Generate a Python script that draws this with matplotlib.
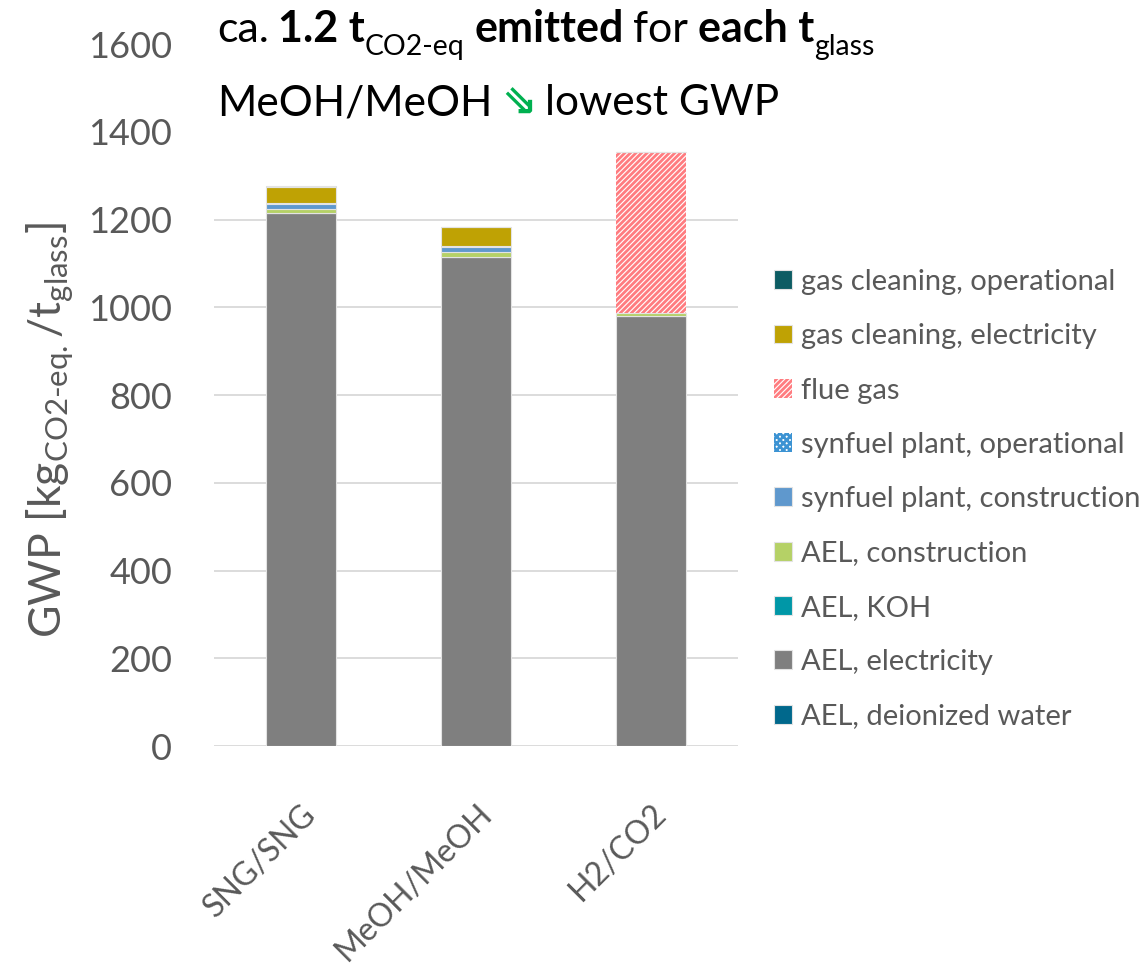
import matplotlib
matplotlib.use("Agg")
import matplotlib.pyplot as plt
from matplotlib.patches import Rectangle

plt.rcParams['font.family'] = ['Lato', 'DejaVu Sans']
plt.rcParams['mathtext.fontset'] = 'custom'
plt.rcParams['mathtext.rm'] = 'Lato'
plt.rcParams['hatch.linewidth'] = 2.0

W, H = 1144, 967

categories = ['SNG/SNG', 'MeOH/MeOH', 'H2/CO2']

# GWP contributions in kg CO2-eq per t glass (bottom -> top of each stack)
deionized_water = [0.5, 0.5, 0.5]
ael_electricity = [1214, 1114, 979]
ael_koh = [0.5, 0.5, 0.5]
ael_construction = [10, 10.5, 7]
synfuel_construction = [11, 12, 0]
synfuel_operational = [2, 1.5, 0]
flue_gas = [0, 0, 367]
gas_cleaning_electricity = [37, 43.5, 0]
gas_cleaning_operational = [0.3, 0.3, 0]

yticks = [0, 200, 400, 600, 800, 1000, 1200, 1400, 1600]

# label, values, facecolor, hatch colour, hatch
stack = [
    ('AEL, deionized water', deionized_water, '#00688C', None, None),
    ('AEL, electricity', ael_electricity, '#7F7F7F', None, None),
    ('AEL, KOH', ael_koh, '#0097A7', None, None),
    ('AEL, construction', ael_construction, '#B5D166', None, None),
    ('synfuel plant, construction', synfuel_construction, '#5F98CD', None, None),
    ('synfuel plant, operational', synfuel_operational, 'white', '#3C93D3', 'xxxxx'),
    ('flue gas', flue_gas, 'white', '#FF7C80', '//////'),
    ('gas cleaning, electricity', gas_cleaning_electricity, '#BFA204', None, None),
    ('gas cleaning, operational', gas_cleaning_operational, '#0D5C63', None, None),
]

fig = plt.figure(figsize=(W / 100, H / 100), dpi=100)
ax = fig.add_axes([214 / W, 1 - 746 / H, (738 - 214) / W, (746 - 44) / H])

x = list(range(len(categories)))
bottom = [0.0] * len(categories)
handles = []
for label, vals, fc, hc, hatch in stack:
    if hatch:
        b = ax.bar(x, vals, 0.40, bottom=bottom, facecolor=fc, edgecolor=hc,
                   hatch=hatch, linewidth=0, label=label, zorder=3)
    else:
        b = ax.bar(x, vals, 0.40, bottom=bottom, color=fc, edgecolor='#E3E3E3',
                   linewidth=0.8, label=label, zorder=3)
    handles.append(b)
    bottom = [bt + v for bt, v in zip(bottom, vals)]

ax.set_xlim(-0.5, 2.5)
ax.set_ylim(0, 1600)
ax.set_yticks(yticks)
ax.set_xticks(x)
ax.set_xticklabels(categories, rotation=45, ha='right', rotation_mode='anchor')
ax.grid(axis='y', color='#D9D9D9', linewidth=1.3, zorder=0)
ax.set_axisbelow(True)
for s in ax.spines.values():
    s.set_visible(False)
ax.tick_params(axis='y', length=0, labelsize=26, labelcolor='#595959', pad=30)
ax.tick_params(axis='x', length=0, labelsize=23, labelcolor='#595959', pad=38)

leg = ax.legend(handles[::-1], [s[0] for s in stack][::-1], loc='upper left',
                bbox_to_anchor=(774 / W, 1 - 269 / H), bbox_transform=fig.transFigure,
                frameon=False, fontsize=21, handlelength=0.62, handleheight=0.62,
                handletextpad=0.3, labelspacing=0.97, borderpad=0, borderaxespad=0,
                labelcolor='#595959')

fig.text(50 / W, 1 - 430 / H, r'GWP [kg$_{\mathrm{CO2\text{-}eq.}}$/t$_{\mathrm{glass}}$]',
         rotation=90, fontsize=32, color='#595959', ha='center', va='center')

# white box behind the headline (hides the top grid lines)
fig.add_artist(Rectangle((205 / W, 1 - 140 / H), (900 - 205) / W, 140 / H,
                         transform=fig.transFigure, facecolor='white',
                         edgecolor='none', zorder=5))

renderer = fig.canvas.get_renderer()


def draw_runs(x0, base, size, runs):
    xp = x0
    for txt, weight, sub, color, fam, gap in runs:
        fs = size * 0.66 if sub else size
        yp = base + (0.3 * size * 100 / 72 if sub else 0)
        kw = dict(fontsize=fs, fontweight=weight, color=color, va='baseline',
                  ha='left', zorder=6)
        if fam:
            kw['family'] = fam
        t = fig.text(xp / W, 1 - yp / H, txt, **kw)
        xp += t.get_window_extent(renderer).width + gap * size * 100 / 72


draw_runs(217, 42, 31, [
    ('ca.', 'normal', False, 'black', None, 0.22),
    ('1.2 t', 'bold', False, 'black', None, 0),
    ('CO2-eq', 'normal', True, 'black', None, 0.22),
    ('emitted', 'bold', False, 'black', None, 0.22),
    ('for', 'normal', False, 'black', None, 0.22),
    ('each t', 'bold', False, 'black', None, 0),
    ('glass', 'normal', True, 'black', None, 0),
])
draw_runs(217, 115, 30.5, [
    ('MeOH/MeOH', 'normal', False, 'black', None, 0.2),
    ('\u21d8', 'bold', False, '#00B050', ['DejaVu Sans'], 0.2),
    ('lowest GWP', 'normal', False, 'black', None, 0),
])

fig.savefig('out.png', dpi=100)
